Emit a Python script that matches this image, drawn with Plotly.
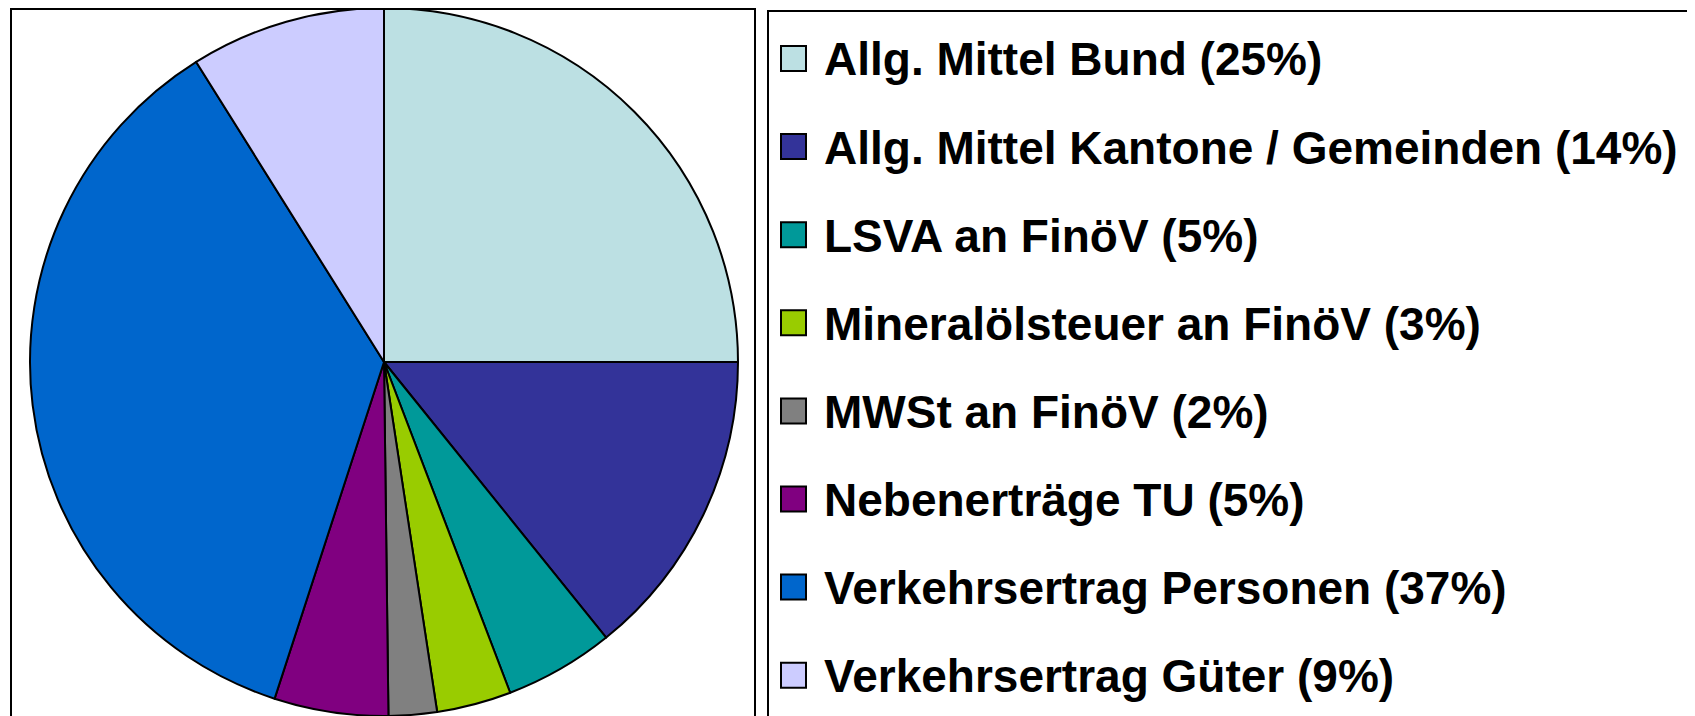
"""Finanzierung Schienenverkehr - Anteile nach Quelle (Pie + Legende rechts)."""
import plotly.graph_objects as go

OFF = 8  # body-margin der html-seite
W, H = 1695 - OFF, 716 - OFF

# Daten (Text wie Legende)
labels = ["Allg. Mittel Bund", "Allg. Mittel Kantone / Gemeinden", "LSVA an FinöV",
          "Mineralölsteuer an FinöV", "MWSt an FinöV", "Nebenerträge TU",
          "Verkehrsertrag Personen", "Verkehrsertrag Güter"]
pct_label = [25, 14, 5, 3, 2, 5, 37, 9]
values = [25.0, 14.2, 5.0, 3.4, 2.2, 5.2, 36.1, 8.9]
colors = ["#BCE0E3", "#333399", "#009999", "#99CC00", "#808080", "#800080", "#0066CC", "#CCCCFF"]

FONT = "Arial, 'Liberation Sans', sans-serif"


def px(x):  # fenster-pixel -> paper
    return (x - OFF) / W


def py(y):  # fenster-pixel von oben -> paper
    return (H - (y - OFF)) / H


# pie: volle hoehe, zentriert bei x=384
R = H / 2
cx = 384
fig = go.Figure(go.Pie(
    labels=labels, values=values, sort=False, direction="clockwise", rotation=0,
    marker=dict(colors=colors, line=dict(color="black", width=2)),
    textinfo="none", hovertemplate="%{label}: %{percent}<extra></extra>",
    domain=dict(x=[px(cx - R), px(cx + R)], y=[0, 1]),
    showlegend=False,
))

shapes = [
    # rahmen um pie
    dict(type="rect", xref="paper", yref="paper", x0=px(11), x1=px(755), y0=-0.1, y1=py(9),
         line=dict(color="black", width=2), fillcolor="rgba(0,0,0,0)"),
    # rahmen legende
    dict(type="rect", xref="paper", yref="paper", x0=px(768), x1=1.1, y0=-0.1, y1=py(11),
         line=dict(color="black", width=2), fillcolor="rgba(0,0,0,0)"),
]
annotations = []
Y0, STEP = 58.5, 88.1
for i, (lab, p, c) in enumerate(zip(labels, pct_label, colors)):
    yc = Y0 + i * STEP
    shapes.append(dict(type="rect", xref="paper", yref="paper",
                       x0=px(781), x1=px(806), y0=py(yc + 12.5), y1=py(yc - 12.5),
                       line=dict(color="black", width=2), fillcolor=c))
    annotations.append(dict(xref="paper", yref="paper", x=px(822), y=py(yc + 1),
                            xanchor="left", yanchor="middle", showarrow=False,
                            text=f"<b>{lab} ({p}%)</b>",
                            font=dict(family=FONT, size=46, color="black")))

fig.update_layout(
    width=W, height=H, margin=dict(l=0, r=0, t=0, b=0),
    paper_bgcolor="white", plot_bgcolor="white",
    shapes=shapes, annotations=annotations,
)

fig.write_html("out.html")
